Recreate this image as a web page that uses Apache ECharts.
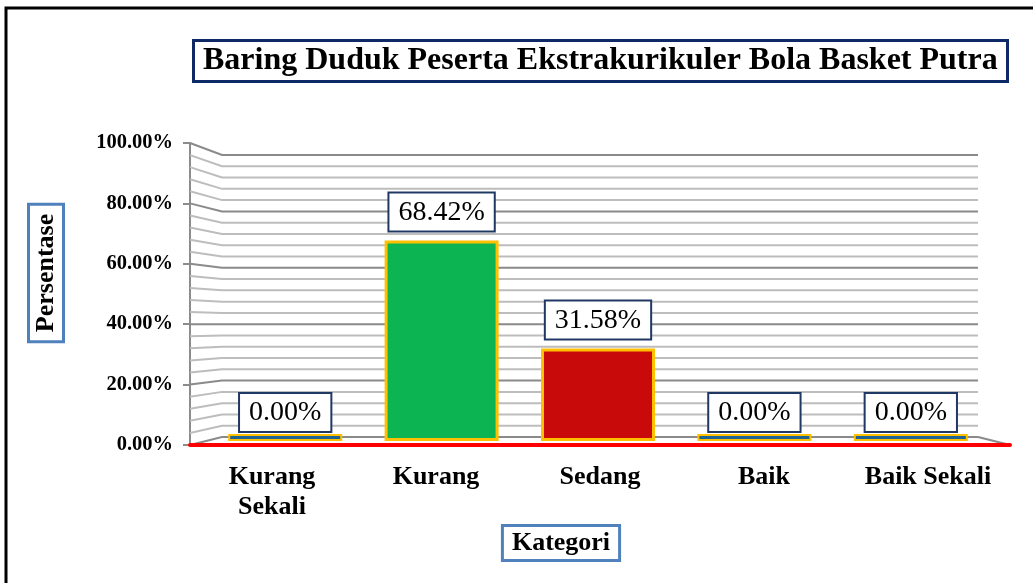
<!DOCTYPE html>
<html>
<head>
<meta charset="utf-8">
<script src="https://cdn.jsdelivr.net/npm/echarts@6/dist/echarts.min.js"></script>
<style>
html,body{margin:0;padding:0;background:#fff;}
#c{width:1033px;height:583px;}
</style>
</head>
<body>
<div id="c"></div>
<script>
// ---- data ----
const categories = ['Kurang Sekali', 'Kurang', 'Sedang', 'Baik', 'Baik Sekali'];
const categoryLabels = ['Kurang\nSekali', 'Kurang', 'Sedang', 'Baik', 'Baik Sekali'];
const values = [0.00, 68.42, 31.58, 0.00, 0.00];
const barColors = ['#1F6391', '#0CB552', '#C80A0A', '#1F6391', '#1F6391'];
const gridLevels = [0, 4, 8, 12, 16, 20, 24, 28, 32, 36, 40, 44, 48, 52, 56, 60, 64, 68, 72, 76, 80, 84, 88, 92, 96, 100];
const titleText = 'Baring Duduk Peserta Ekstrakurikuler Bola Basket Putra';
const yName = 'Persentase';
const xName = 'Kategori';

// ---- layout ----
const SERIF = '"Times New Roman", "Liberation Serif", serif';
const FRONT = { left: 190, right: 1010, top: 143, bottom: 445 };

const chart = echarts.init(document.getElementById('c'), null, { renderer: 'canvas' });

const option = {
  animation: false,
  backgroundColor: '#ffffff',
  title: {
    text: titleText,
    left: 193, top: 40,
    padding: [5, 10, 5, 10],
    borderColor: '#0E2A66', borderWidth: 3,
    backgroundColor: '#fff',
    textStyle: { fontFamily: SERIF, fontWeight: 'bold', fontSize: 32, color: '#000' }
  },
  grid: [
    { left: FRONT.left, right: 1033 - FRONT.right, top: FRONT.top, bottom: 583 - FRONT.bottom },
    { left: 222, right: 55, top: 155, bottom: 146 },
    { left: 207, right: 44, top: 148, bottom: 142 }
  ],
  xAxis: [
    {
      gridIndex: 0, type: 'category', data: categoryLabels, z: 10,
      axisLine: { show: true, lineStyle: { color: '#FF0000', width: 4 } },
      axisTick: { show: false },
      axisLabel: { margin: 17, fontFamily: SERIF, fontWeight: 'bold', fontSize: 26, lineHeight: 30, color: '#000', interval: 0 }
    },
    { gridIndex: 1, type: 'value', min: 0, max: 1, show: false },
    { gridIndex: 2, type: 'category', data: categories, show: false }
  ],
  yAxis: [
    {
      gridIndex: 0, type: 'value', min: 0, max: 100, interval: 20,
      axisLine: { show: true, lineStyle: { color: '#8C8C8C', width: 2 } },
      axisTick: { show: true, length: 7, lineStyle: { color: '#8C8C8C', width: 2 } },
      splitLine: { show: false },
      axisLabel: { margin: 17, fontFamily: SERIF, fontWeight: 'bold', fontSize: 20.5, color: '#000',
        formatter: v => v.toFixed(2) + '%' }
    },
    { gridIndex: 1, type: 'value', min: 0, max: 100, interval: 4, show: false },
    { gridIndex: 2, type: 'value', min: 0, max: 100, show: false }
  ],
  series: [
    {
      type: 'custom', xAxisIndex: 1, yAxisIndex: 1, z: 1, silent: true,
      data: gridLevels.map(v => [v]),
      renderItem: function (params, api) {
        const v = api.value(0);
        const bl = api.coord([0, v]);
        const br = api.coord([1, v]);
        const fy = FRONT.bottom - v / 100 * (FRONT.bottom - FRONT.top);
        const major = v % 20 === 0;
        const children = [{
          type: 'polyline',
          shape: { points: [[FRONT.left, fy], bl, br] },
          style: { fill: null, stroke: major ? '#8A8A8A' : '#BDBDBD', lineWidth: 2 }
        }];
        if (v === 0) {
          children.push({
            type: 'line',
            shape: { x1: br[0], y1: br[1], x2: FRONT.right, y2: FRONT.bottom },
            style: { stroke: '#8A8A8A', lineWidth: 2 }
          });
        }
        return { type: 'group', children: children };
      }
    },
    {
      type: 'bar', xAxisIndex: 2, yAxisIndex: 2, z: 3,
      barWidth: 114, barMinHeight: 7,
      data: values.map((v, i) => ({
        value: v,
        itemStyle: { color: barColors[i], borderWidth: v === 0 ? 2 : 3 },
        label: { distance: v === 0 ? 3 : 10 }
      })),
      itemStyle: { borderColor: '#FFC000', borderWidth: 3 },
      label: {
        show: true, position: 'top',
        formatter: p => p.value.toFixed(2) + '%',
        fontFamily: SERIF, fontSize: 28, color: '#000', lineHeight: 30,
        backgroundColor: '#fff', borderColor: '#1F3864', borderWidth: 2,
        padding: [4, 9, 3, 9]
      }
    }
  ],
  graphic: [
    {
      type: 'rect', z: 100, silent: true,
      shape: { x: 6, y: 8, width: 1100, height: 700 },
      style: { fill: null, stroke: '#000', lineWidth: 3 }
    },
    {
      type: 'text', x: 561, y: 543, z: 100,
      style: {
        text: xName, font: 'bold 26px ' + SERIF, fill: '#000',
        align: 'center', verticalAlign: 'middle',
        backgroundColor: '#fff', borderColor: '#4F81BD', borderWidth: 3,
        padding: [3, 8, 3, 8]
      }
    },
    {
      type: 'text', x: 46, y: 273, rotation: Math.PI / 2, z: 100,
      style: {
        text: yName, font: 'bold 26px ' + SERIF, fill: '#000',
        align: 'center', verticalAlign: 'middle',
        backgroundColor: '#fff', borderColor: '#4F81BD', borderWidth: 3,
        padding: [3, 8, 3, 8]
      }
    }
  ]
};
chart.setOption(option);
</script>
</body>
</html>
